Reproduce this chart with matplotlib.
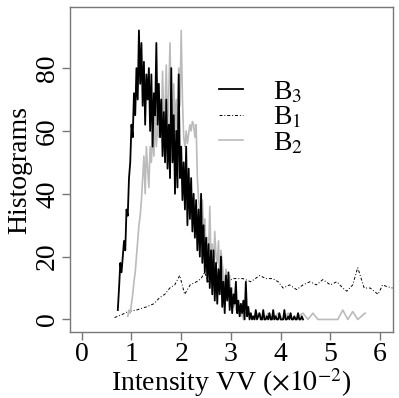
import numpy as np
import matplotlib
matplotlib.use("Agg")
import matplotlib.pyplot as plt

plt.rcParams['font.family'] = ['Liberation Serif', 'DejaVu Serif']
plt.rcParams['mathtext.fontset'] = 'stix'

# ---- data ----
b3_start, b3_step = 0.725, 0.025
b3_vals = [3, 10, 18, 15, 20, 25, 22, 35, 33, 45, 50, 62, 58, 72, 65, 80, 70, 92, 75, 88,
           68, 82, 62, 78, 70, 80, 60, 78, 55, 72, 65, 88, 62, 75, 58, 70, 52, 66, 50, 70,
           48, 62, 45, 80, 50, 65, 40, 60, 42, 78, 45, 55, 38, 50, 35, 55, 30, 48, 32, 45,
           28, 40, 26, 38, 22, 35, 20, 40, 18, 30, 15, 26, 12, 24, 10, 22, 8, 22, 6, 18,
           5, 16, 8, 20, 4, 12, 2, 14, 6, 15, 3, 10, 2, 8, 5, 12, 2, 6, 1, 5,
           2, 6, 0, 12, 1, 4, 0, 2, 0, 1, 0, 3, 0, 1, 2, 0, 0, 3, 0, 0,
           1, 0, 2, 0, 0, 3, 0, 1, 0, 0, 2, 0, 0, 0, 3, 0, 0, 1, 0, 2,
           0, 0, 1, 0, 0, 2, 0, 0, 1, 0]

b2_start, b2_step = 0.925, 0.025
b2_vals = [1, 3, 2, 5, 8, 12, 15, 20, 25, 30, 33, 38, 45, 52, 40, 55, 48, 42, 55, 50,
           60, 52, 65, 55, 62, 58, 70, 60, 79, 62, 68, 81, 60, 72, 88, 65, 58, 75, 60, 70,
           55, 80, 68, 92, 70, 58, 55, 60, 56, 59, 62, 60, 63, 62, 58, 62, 45, 38, 35, 30,
           38, 28, 32, 22, 26, 20, 36, 18, 24, 15, 28, 20, 18, 25, 12, 22, 18, 14, 10, 16,
           12, 8, 14, 6, 10, 4, 6, 3, 5, 2, 4, 1, 3, 0, 2]
b2_tail_x = [3.35, 3.45, 3.55, 3.65, 3.75, 3.85, 3.95, 4.05, 4.15, 4.25, 4.35, 4.45,
             4.55, 4.65, 4.75, 4.85, 5.0, 5.15, 5.25, 5.35, 5.45, 5.55, 5.7]
b2_tail_vals = [2, 0, 2, 0, 2, 0, 2, 0, 2, 0, 1, 2, 0, 2, 0, 0, 0, 0, 3, 0, 2.5, 0, 2]

b1_x = [0.66, 0.8, 0.93, 1.1, 1.3, 1.45, 1.57, 1.67, 1.77, 1.87, 1.97, 2.07, 2.18, 2.31,
        2.4, 2.47, 2.55, 2.64, 2.78, 2.91, 3.05, 3.24, 3.4, 3.58, 3.7, 3.84, 3.95, 4.05,
        4.18, 4.32, 4.45, 4.59, 4.72, 4.85, 5.0, 5.13, 5.25, 5.33, 5.45, 5.55, 5.68, 5.8,
        5.96, 6.05, 6.13, 6.25]
b1_vals = [0.6, 1.5, 2.5, 3, 4, 5, 7, 8, 10, 11, 14, 8, 11, 12, 13, 15, 12, 13, 11, 12,
           13, 13, 12, 14, 13, 13, 12, 10, 11, 9.5, 11, 12, 11, 12.7, 11, 12, 10, 9,
           11, 16.5, 10, 10, 8, 11, 10.5, 10]

xticks = [0, 1, 2, 3, 4, 5, 6]
yticks = [0, 20, 40, 60, 80]

b3_x = b3_start + b3_step * np.arange(len(b3_vals))
b2_x = np.concatenate([b2_start + b2_step * np.arange(len(b2_vals)), b2_tail_x])
b2_y = np.concatenate([b2_vals, b2_tail_vals])

fig = plt.figure(figsize=(3.99, 3.98), dpi=100)
ax = fig.add_axes([0.175, 0.165, 0.81, 0.817])

ax.plot(b3_x, b3_vals, color='black', lw=1.3, label=r'B$_3$', zorder=3)
ax.plot(b1_x, b1_vals, color='black', lw=0.7, ls=(0, (3, 2, 1, 2)), label=r'B$_1$', zorder=2)
ax.plot(b2_x, b2_y, color='#bbbbbb', lw=1.2, label=r'B$_2$', zorder=2.5)

fs = 20
ax.set_xlim(-0.24, 6.26)
ax.set_ylim(-4.1, 99.4)
ax.set_xticks(xticks)
ax.set_yticks(yticks)
ax.set_xticklabels([str(t) for t in xticks], fontsize=fs)
ax.set_yticklabels([str(t) for t in yticks], fontsize=fs, rotation=90, va='center')
for s in ax.spines.values():
    s.set_color('#777777')
    s.set_linewidth(1.0)
ax.tick_params(direction='out', length=6, color='#777777', width=1.0, pad=1)
ax.set_xlabel(r'Intensity VV ($\times10^{-2}$)', fontsize=fs, labelpad=-1)
ax.set_ylabel('Histograms', fontsize=fs, labelpad=2)

leg = ax.legend(loc='upper left', bbox_to_anchor=(0.385, 0.855), frameon=False,
                fontsize=fs, handlelength=0.85, handletextpad=1.1, labelspacing=0.0)

fig.savefig('out.png', dpi=100)
